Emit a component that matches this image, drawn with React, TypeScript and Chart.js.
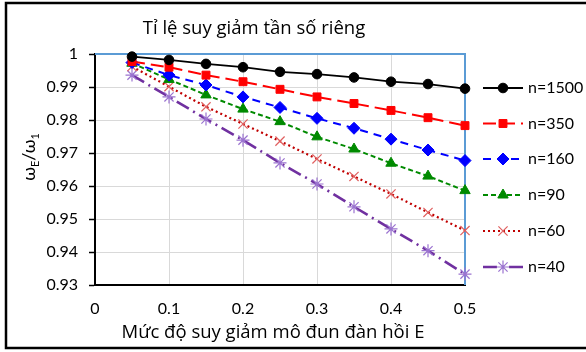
import React, { useEffect, useRef } from "react";
import { Chart, registerables } from "chart.js";
import { drawPoint } from "chart.js/helpers";

Chart.register(...registerables);

const xValues = [0.05, 0.1, 0.15, 0.2, 0.25, 0.3, 0.35, 0.4, 0.45, 0.5];
const seriesLabels = ["n=1500", "n=350", "n=160", "n=90", "n=60", "n=40"];
const n1500 = [0.9992, 0.9982, 0.997, 0.996, 0.9946, 0.9939, 0.9929, 0.9916, 0.9909, 0.9895];
const n350 = [0.9977, 0.996, 0.9936, 0.9916, 0.9893, 0.987, 0.985, 0.9829, 0.9807, 0.9783];
const n160 = [0.9974, 0.9936, 0.9906, 0.987, 0.9838, 0.9805, 0.9775, 0.9742, 0.9709, 0.9677];
const n90 = [0.9972, 0.9923, 0.9876, 0.9833, 0.9795, 0.9749, 0.9712, 0.9669, 0.963, 0.9586];
const n60 = [0.9962, 0.9901, 0.984, 0.9788, 0.9736, 0.9682, 0.9629, 0.9576, 0.952, 0.9465];
const n40 = [0.9936, 0.987, 0.9803, 0.9739, 0.967, 0.9606, 0.9537, 0.947, 0.9404, 0.9333];
const xTickLabels = ["0", "0.1", "0.2", "0.3", "0.4", "0.5"];
const yTickLabels = ["0.93", "0.94", "0.95", "0.96", "0.97", "0.98", "0.99", "1"];
const chartTitle = "Tỉ lệ suy giảm tần số riêng";
const xTitle = "Mức độ suy giảm mô đun đàn hồi E";

const FONT = "Lato, 'Open Sans', sans-serif";
const VFONT = "'Open Sans', 'Noto Sans', sans-serif";

const styles = [
  { color: "#000000", pColor: "#000000", pFill: "#000000", dash: [] as number[], style: "circle", radius: 4.8, pbw: 1, bw: 1.8 },
  { color: "#FF0000", pColor: "#FF0000", pFill: "#FF0000", dash: [13, 6], style: "rect", radius: 5.6, pbw: 1, bw: 2 },
  { color: "#0000FF", pColor: "#0000FF", pFill: "#0000FF", dash: [8, 6], style: "rectRot", radius: 6, pbw: 1, bw: 2 },
  { color: "#008A00", pColor: "#008A00", pFill: "#008A00", dash: [5, 3], style: "triangle", radius: 6, pbw: 1, bw: 2 },
  { color: "#C00000", pColor: "#E06060", pFill: "rgba(0,0,0,0)", dash: [2, 3], style: "crossRot", radius: 6.5, pbw: 1.2, bw: 2.2 },
  { color: "#7030A0", pColor: "#9B73D0", pFill: "rgba(0,0,0,0)", dash: [14, 5, 2, 5], style: "star", radius: 6.5, pbw: 1.2, bw: 2.6 },
];

const seriesValues = [n1500, n350, n160, n90, n60, n40];

const decorPlugin = {
  id: "decor",
  beforeDatasetsDraw(chart: any) {
    const { ctx, chartArea } = chart;
    ctx.save();
    ctx.strokeStyle = "#5B9BD5";
    ctx.lineWidth = 2;
    ctx.beginPath();
    ctx.moveTo(chartArea.left, chartArea.top);
    ctx.lineTo(chartArea.right, chartArea.top);
    ctx.lineTo(chartArea.right, chartArea.bottom);
    ctx.stroke();
    ctx.restore();
  },
  afterDraw(chart: any) {
    const { ctx } = chart;
    ctx.save();
    // outer frame
    ctx.strokeStyle = "#000";
    ctx.lineWidth = 2.5;
    ctx.strokeRect(6, 3, 620, 345);

    // title
    ctx.fillStyle = "#000";
    ctx.font = `18.5px ${VFONT}`;
    ctx.textAlign = "center";
    ctx.textBaseline = "middle";
    ctx.fillText(chartTitle, 254, 29);

    // x title
    ctx.font = `18.5px ${VFONT}`;
    ctx.fillText(xTitle, 273, 333);

    // y title with subscripts
    ctx.save();
    ctx.translate(35, 157);
    ctx.rotate(-Math.PI / 2);
    ctx.textAlign = "left";
    ctx.textBaseline = "alphabetic";
    const big = `18px ${FONT}`;
    const small = `11px ${FONT}`;
    const parts: [string, string, number][] = [
      ["ω", big, 0],
      ["E", small, 4],
      ["/ω", big, 0],
      ["1", small, 4],
    ];
    let total = 0;
    for (const [t, f] of parts) {
      ctx.font = f;
      total += ctx.measureText(t).width;
    }
    let x = -total / 2;
    for (const [t, f, dy] of parts) {
      ctx.font = f;
      ctx.fillText(t, x, dy);
      x += ctx.measureText(t).width;
    }
    ctx.restore();

    // legend
    const legendY = [88, 123.5, 159, 195, 231, 267];
    chart.data.datasets.forEach((ds: any, i: number) => {
      const st = styles[i];
      const y = legendY[i];
      ctx.save();
      ctx.strokeStyle = st.color;
      ctx.lineWidth = st.bw;
      ctx.setLineDash(st.dash);
      ctx.beginPath();
      ctx.moveTo(483, y);
      ctx.lineTo(523, y);
      ctx.stroke();
      ctx.setLineDash([]);
      ctx.strokeStyle = st.pColor;
      ctx.fillStyle = st.pFill;
      ctx.lineWidth = st.pbw;
      drawPoint(ctx, { pointStyle: st.style, radius: st.radius, rotation: 0, borderWidth: st.pbw } as any, 503, y);
      ctx.restore();
      ctx.fillStyle = "#000";
      ctx.font = `16px ${FONT}`;
      ctx.textAlign = "left";
      ctx.textBaseline = "middle";
      ctx.fillText(ds.label, 528, y);
    });
    ctx.restore();
  },
};

export default function App() {
  const ref = useRef<HTMLCanvasElement>(null);
  useEffect(() => {
    document.body.style.margin = "0";
    const canvas = ref.current!;
    const chart = new Chart(canvas, {
      type: "line",
      data: {
        datasets: seriesLabels.map((label, i) => ({
          label,
          data: xValues.map((x, j) => ({ x, y: seriesValues[i][j] })),
          borderColor: styles[i].color,
          borderWidth: styles[i].bw,
          borderDash: styles[i].dash,
          backgroundColor: styles[i].pFill,
          pointStyle: styles[i].style as any,
          pointRadius: styles[i].radius,
          pointBorderColor: styles[i].pColor,
          pointBackgroundColor: styles[i].pFill,
          pointBorderWidth: styles[i].pbw,
          tension: 0,
          fill: false,
          clip: false as any,
        })),
      },
      options: {
        animation: false,
        responsive: false,
        devicePixelRatio: 1,
        layout: { padding: { left: 0, top: 54, right: 121, bottom: 0 } },
        plugins: { legend: { display: false }, tooltip: { enabled: false }, title: { display: false } },
        scales: {
          x: {
            type: "linear",
            min: 0,
            max: 0.5,
            afterFit: (s: any) => { s.height = 67; },
            afterBuildTicks: (s: any) => { s.ticks = xTickLabels.map((t) => ({ value: parseFloat(t) })); },
            ticks: {
              padding: 14,
              color: "#000",
              font: { family: FONT, size: 16 },
              callback: (v: any) => xTickLabels.find((t) => Math.abs(parseFloat(t) - v) < 1e-9) ?? "",
              maxRotation: 0,
            },
            grid: { color: "#D9D9D9", lineWidth: 1, drawTicks: false },
            border: { color: "#000", width: 2 },
          },
          y: {
            type: "linear",
            min: 0.93,
            max: 1,
            afterFit: (s: any) => { s.width = 95; },
            afterBuildTicks: (s: any) => { s.ticks = yTickLabels.map((t) => ({ value: parseFloat(t) })); },
            ticks: {
              padding: 11,
              color: "#000",
              font: { family: FONT, size: 16 },
              callback: (v: any) => yTickLabels.find((t) => Math.abs(parseFloat(t) - v) < 1e-9) ?? "",
            },
            grid: { color: "#D9D9D9", lineWidth: 1, drawTicks: true, tickLength: 6, tickColor: "#000", tickWidth: 1.5 },
            border: { color: "#000", width: 2 },
          },
        },
      },
      plugins: [decorPlugin],
    });
    return () => chart.destroy();
  }, []);
  return (
    <div style={{ width: 586, height: 352, background: "#fff" }}>
      <canvas ref={ref} width={586} height={352} style={{ display: "block", width: 586, height: 352 }} />
    </div>
  );
}
